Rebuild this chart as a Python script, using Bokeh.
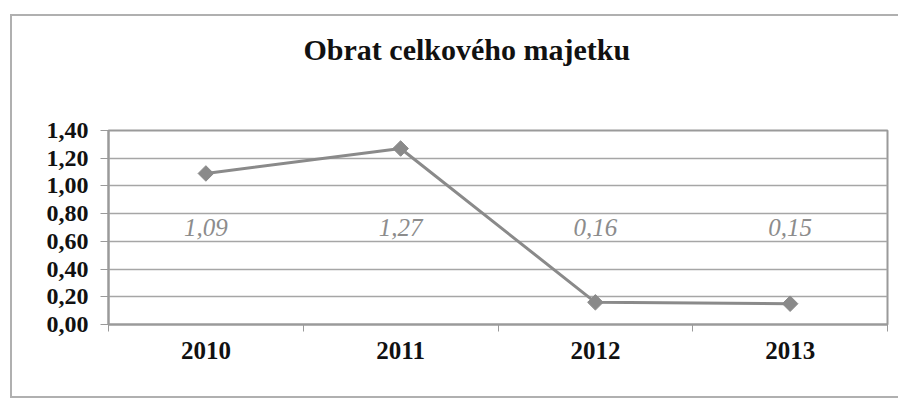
from bokeh.plotting import figure
from bokeh.models import FixedTicker, Range1d, ColumnDataSource, Title
from bokeh.core.properties import value
from bokeh.embed import file_html
from bokeh.resources import INLINE
import math

title_text = "Obrat celkového majetku"
years = ["2010", "2011", "2012", "2013"]
values = [1.09, 1.27, 0.16, 0.15]
value_labels = ["1,09", "1,27", "0,16", "0,15"]
y_ticks = [0.0, 0.2, 0.4, 0.6, 0.8, 1.0, 1.2, 1.4]
y_tick_labels = ["0,00", "0,20", "0,40", "0,60", "0,80", "1,00", "1,20", "1,40"]
label_level = 0.70

SERIF = "'Liberation Serif', 'Times New Roman', serif"

xs = [i + 0.5 for i in range(len(years))]
src = ColumnDataSource(dict(x=xs, y=values, lab=value_labels,
                            ly=[label_level] * len(years)))

W, H = 888, 384
p = figure(width=W, height=H, output_backend="svg", toolbar_location=None,
           x_range=Range1d(0, len(years)), y_range=Range1d(0, 1.4),
           min_border_left=96, min_border_right=13, min_border_bottom=76,
           min_border_top=114)
p.title = None
spacer = Title(text=" ", text_font_size="10px", standoff=52)
p.add_layout(spacer, "above")
title = Title(text=title_text, align="left", offset=195, standoff=0,
              text_font=SERIF, text_font_size="30px", text_font_style="bold",
              text_color="#111111")
p.add_layout(title, "above")

p.background_fill_color = "white"
p.border_fill_color = "white"
p.outline_line_color = "#9a9a9a"
p.outline_line_width = 2

# grid
p.xgrid.visible = False
p.ygrid.ticker = FixedTicker(ticks=y_ticks)
p.ygrid.grid_line_color = "#a6a6a6"
p.ygrid.grid_line_width = 1.5

# y axis
p.yaxis.ticker = FixedTicker(ticks=y_ticks)
p.yaxis.major_label_overrides = {t_: l for t_, l in zip(y_ticks, y_tick_labels)}
p.yaxis.major_label_text_font = SERIF
p.yaxis.major_label_text_font_size = "24px"
p.yaxis.major_label_text_font_style = "bold"
p.yaxis.major_label_text_color = "#111111"
p.yaxis.axis_line_color = "#9a9a9a"
p.yaxis.axis_line_width = 2
p.yaxis.major_tick_line_color = "#9a9a9a"
p.yaxis.major_tick_out = 8
p.yaxis.major_tick_in = 0
p.yaxis.minor_tick_line_color = None
p.yaxis.major_label_standoff = 12

# x axis
p.xaxis.ticker = FixedTicker(ticks=xs, minor_ticks=list(range(len(years) + 1)))
p.xaxis.major_label_overrides = {x: y for x, y in zip(xs, years)}
p.xaxis.major_label_text_font = SERIF
p.xaxis.major_label_text_font_size = "25px"
p.xaxis.major_label_text_font_style = "bold"
p.xaxis.major_label_text_color = "#111111"
p.xaxis.axis_line_color = "#9a9a9a"
p.xaxis.axis_line_width = 2
p.xaxis.major_tick_line_color = None
p.xaxis.minor_tick_line_color = "#9a9a9a"
p.xaxis.minor_tick_out = 7
p.xaxis.minor_tick_in = 0
p.xaxis.major_label_standoff = 10

p.line("x", "y", source=src, line_color="#8a8a8a", line_width=3)
p.scatter("x", "y", source=src, marker="square", size=11, angle=math.pi / 4,
          fill_color="#8a8a8a", line_color="#8a8a8a")
p.text("x", "ly", text="lab", source=src, text_font=value(SERIF),
       text_font_style="italic", text_font_size="25px", text_color="#8c8c8c",
       text_align="center", text_baseline="middle")

p.styles = {"margin-left": "10px", "margin-top": "14px",
            "border-left": "2px solid #b0b0b0", "border-top": "2px solid #b0b0b0",
            "border-bottom": "2px solid #b0b0b0"}

open("out.html", "w").write(file_html(p, INLINE))
